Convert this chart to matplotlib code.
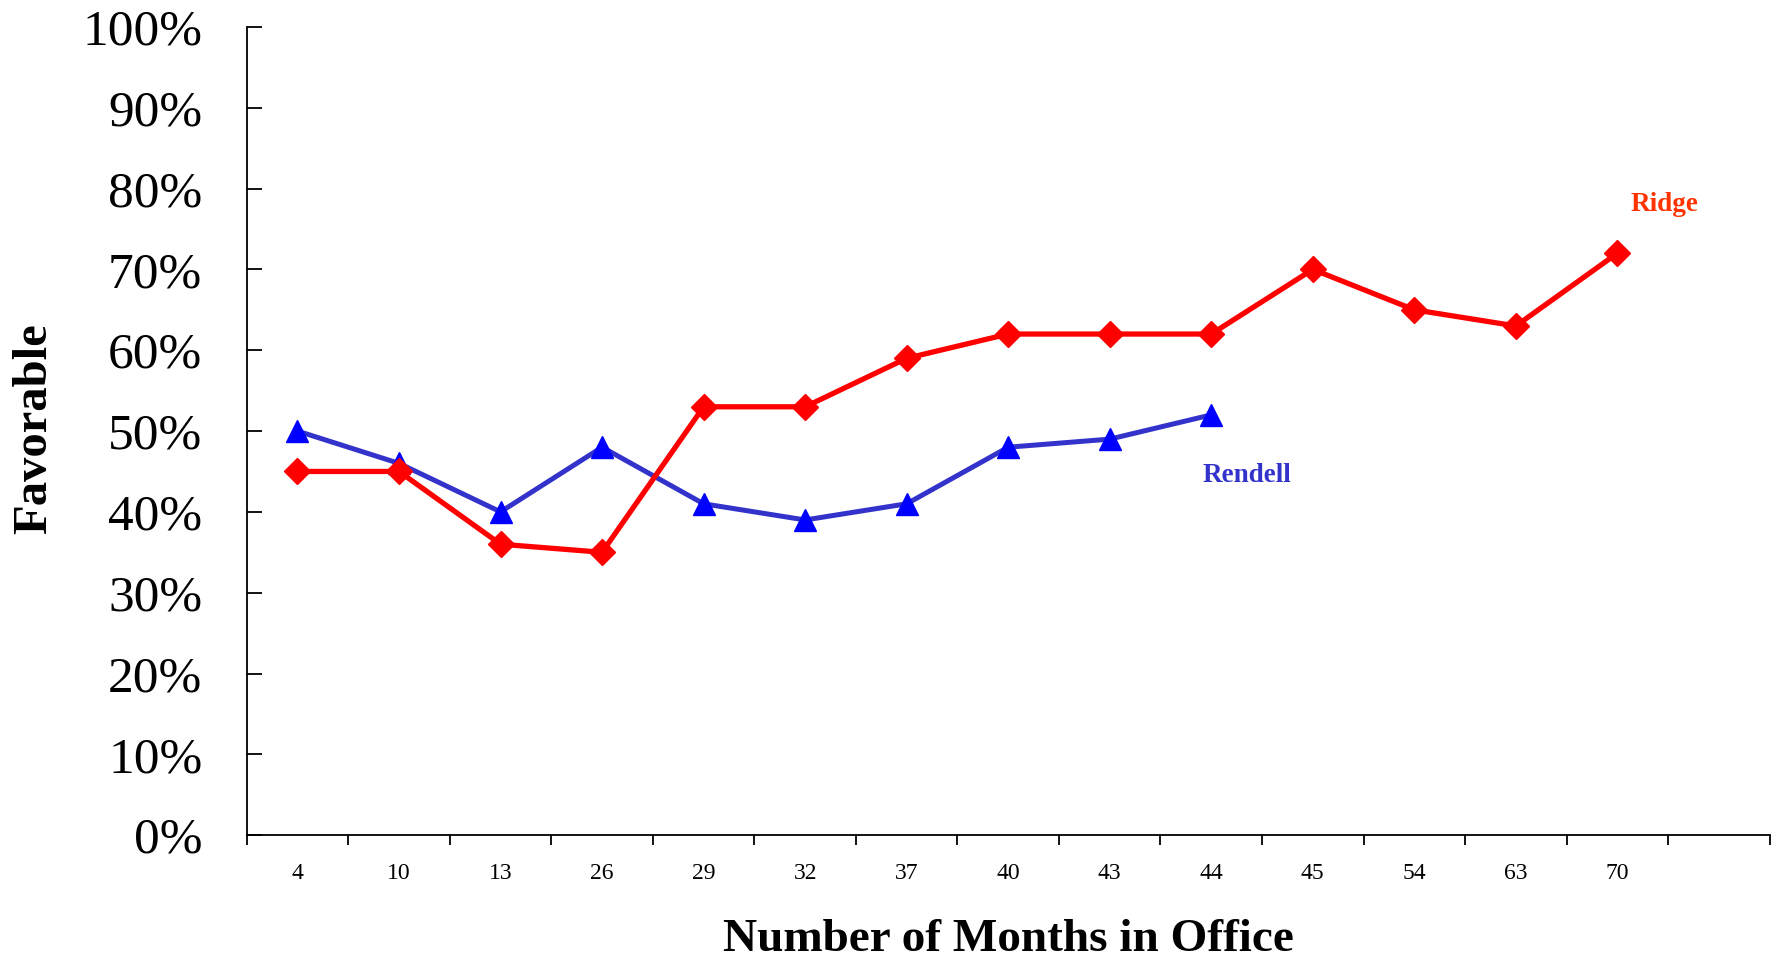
import matplotlib.pyplot as plt
from matplotlib.ticker import FixedLocator, PercentFormatter

# 재임 개월 수 (x축 카테고리)
months = ['4', '10', '13', '26', '29', '32', '37', '40', '43', '44', '45', '54', '63', '70']
# 호감도 (%)
ridge = [45, 45, 36, 35, 53, 53, 59, 62, 62, 62, 70, 65, 63, 72]
rendell = [50, 46, 40, 48, 41, 39, 41, 48, 49, 52]

plt.rcParams['font.family'] = ['Liberation Serif', 'DejaVu Serif']

fig = plt.figure(figsize=(17.75, 9.6), dpi=100)
ax = fig.add_axes([0.139, 0.130, 0.858, 0.842])

x_r = list(range(len(ridge)))
x_d = list(range(len(rendell)))
ax.plot(x_d, rendell, color='#3333CC', lw=3.6, marker='^', ms=16,
        mfc='#0000FF', mec='#0000FF', zorder=3)
ax.plot(x_r, ridge, color='#FF0000', lw=3.8, marker='D', ms=13.5,
        mfc='#FF0000', mec='#FF0000', zorder=4)

ax.text(13.46, 78, 'Ridge', color='#FF3300', fontsize=19.5, fontweight='bold',
        ha='center', va='center')
ax.text(9.35, 44.5, 'Rendell', color='#3333CC', fontsize=19.5, fontweight='bold',
        ha='center', va='center')

ax.set_xlim(-0.5, 14.5)
ax.set_ylim(0, 100)

# y축: 안쪽 눈금, 퍼센트 표기
ax.set_yticks(range(0, 101, 10))
ax.yaxis.set_major_formatter(PercentFormatter(decimals=0))
ax.tick_params(axis='y', direction='in', length=11, width=1.3, pad=32, labelsize=37)

# x축: 카테고리 경계에 눈금, 라벨은 가운데
ax.set_xticks(x_r)
ax.set_xticklabels(months)
ax.xaxis.set_minor_locator(FixedLocator([i - 0.5 for i in range(16)]))
ax.tick_params(axis='x', which='major', length=0, pad=20, labelsize=17)
ax.tick_params(axis='x', which='minor', direction='out', length=7, width=1.3)

for s in ['top', 'right']:
    ax.spines[s].set_visible(False)
for s in ['left', 'bottom']:
    ax.spines[s].set_linewidth(1.3)

fig.text(0.568, 0.021, 'Number of Months in Office', fontsize=34, fontweight='bold',
         ha='center', va='center')
fig.text(0.019, 0.554, 'Favorable', fontsize=35, fontweight='bold', rotation=90,
         ha='center', va='center')

plt.savefig('out.png', dpi=100)
